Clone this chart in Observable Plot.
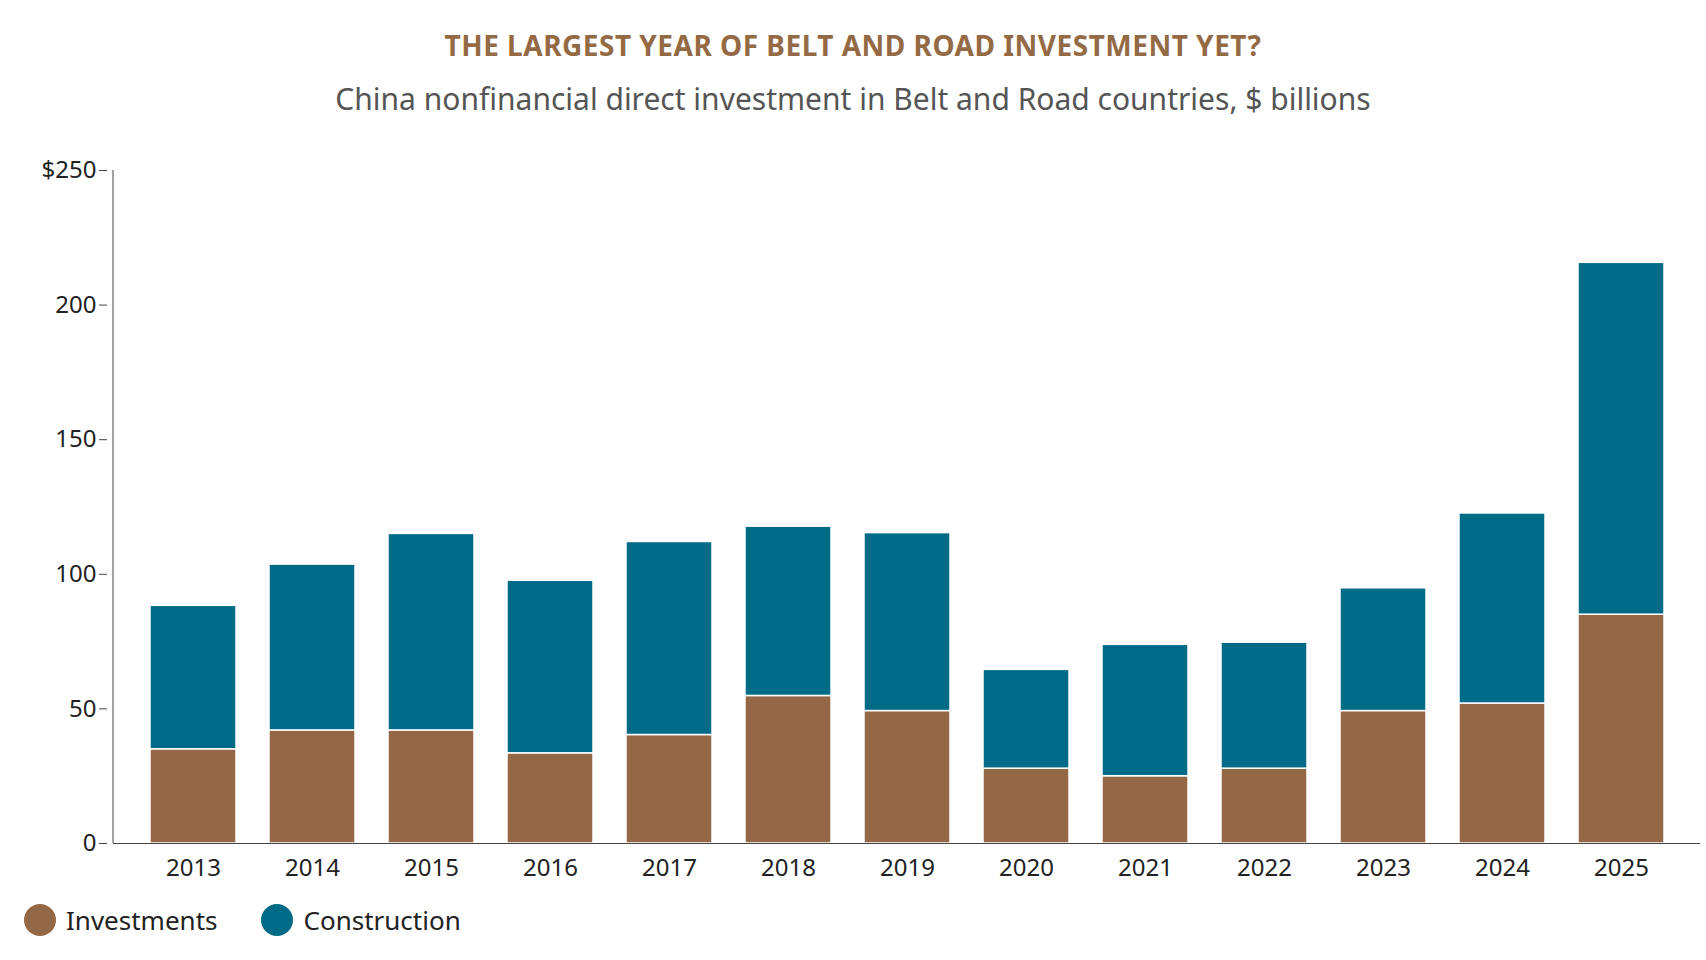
<!DOCTYPE html>
<html><head><meta charset="utf-8">
<script src="https://cdn.jsdelivr.net/npm/d3@7"></script>
<script src="https://cdn.jsdelivr.net/npm/@observablehq/plot@0.6"></script>
<style>
body{margin:0;background:#fff;font-family:"Noto Sans",sans-serif;}
#title{position:absolute;top:26px;width:1706px;text-align:center;font-size:28px;font-weight:700;color:#946a45;letter-spacing:0.5px}
#sub{position:absolute;top:78px;width:1706px;text-align:center;font-size:30px;color:#555}
#chart{position:absolute;top:140px;left:0}
#legend{position:absolute;top:902px;left:24px;font-size:26px;color:#222;display:flex;gap:44px}
#legend span{display:flex;align-items:center;gap:10px}
#legend i{display:inline-block;width:32px;height:32px;border-radius:50%}
</style></head><body>
<div id="title">THE LARGEST YEAR OF BELT AND ROAD INVESTMENT YET?</div>
<div id="sub">China nonfinancial direct investment in Belt and Road countries, $ billions</div>
<div id="chart"></div>
<div id="legend"><span><i style="background:#946846"></i>Investments</span><span><i style="background:#006b87"></i>Construction</span></div>
<script>
const years=["2013","2014","2015","2016","2017","2018","2019","2020","2021","2022","2023","2024","2025"];
const investments=[35,42,42,33.5,40.3,54.8,49.2,27.8,25,27.8,49.2,52,85];
const totals=[88.3,103.6,115,97.6,112,117.7,115.3,64.5,73.8,74.6,94.8,122.6,215.7];
const construction=totals.map((t,i)=>+(t-investments[i]).toFixed(1));
const yTicks=[0,50,100,150,200,250];
const data=[];
years.forEach((y,i)=>{data.push({year:y,type:"Investments",v:investments[i]});data.push({year:y,type:"Construction",v:construction[i]});});
const chart=Plot.plot({
 width:1706,height:760,marginTop:30,marginBottom:57,marginLeft:113,marginRight:6,
 style:{fontFamily:"Noto Sans",fontSize:"24px",color:"#222"},
 x:{domain:years,padding:0.28,label:null,tickSize:0},
 y:{domain:[0,250],ticks:yTicks,label:null,tickFormat:d=>d===250?"$250":d,tickSize:8},
 color:{domain:["Investments","Construction"],range:["#946846","#006b87"]},
 marks:[
  Plot.barY(data,Plot.stackY({x:"year",y:"v",fill:"type",stroke:"white",strokeWidth:1.5,order:["Investments","Construction"]})),
  Plot.ruleY([0],{stroke:"#444"}),
  Plot.ruleX([years[0]],{x:null,stroke:"none"}),
  Plot.axisY({ticks:yTicks,tickFormat:d=>d===250?"$250":d,tickSize:8,stroke:"#444",fontSize:24,dx:-6}),
  Plot.axisX({tickSize:0,fontSize:24,dy:6}),
  Plot.ruleX([0],{x:null,x1:null,stroke:"none"})
 ]
});
const svg=d3.select(chart);
svg.append("line").attr("x1",113).attr("x2",113).attr("y1",30).attr("y2",703).attr("stroke","#444");
document.getElementById("chart").appendChild(chart);
</script></body></html>
